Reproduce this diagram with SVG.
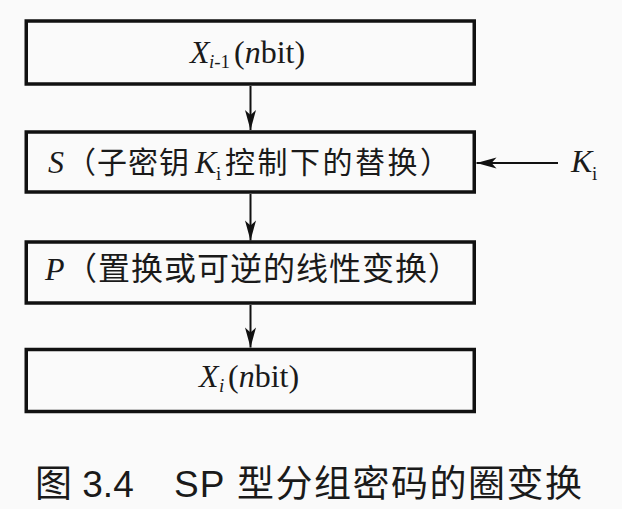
<svg xmlns="http://www.w3.org/2000/svg" width="622" height="509" viewBox="0 0 622 509">
<defs>
<style>
.box{fill:none;stroke:#111;stroke-width:3.5}
.ln{stroke:#111;stroke-width:2;fill:none}
.lat{font-family:"Liberation Serif","Times New Roman",serif;font-size:32px;fill:#1a1a1a}
.it{font-style:italic}
.sub{font-size:19px}
.cjk{font-family:"Noto Sans CJK SC","Noto Sans CJK JP",sans-serif;fill:#1a1a1a}
.cap{font-family:"Liberation Sans","Noto Sans CJK SC",sans-serif;font-size:37px;fill:#1a1a1a}
</style>
<marker id="ah" markerUnits="userSpaceOnUse" markerWidth="24" markerHeight="14" viewBox="-21 -7 22 14" refX="0" refY="0" orient="auto">
<path d="M0,0 L-20,-5.5 L-15,0 L-20,5.5 Z" fill="#111"/>
</marker>
</defs>
<rect width="622" height="509" fill="#fafafa"/>
<g id="connectors">
<line class="ln" x1="250.5" y1="86" x2="250.5" y2="130" marker-end="url(#ah)"/>
<line class="ln" x1="250.5" y1="194" x2="250.5" y2="240.5" marker-end="url(#ah)"/>
<line class="ln" x1="250.5" y1="305" x2="250.5" y2="347.5" marker-end="url(#ah)"/>
<line class="ln" x1="558" y1="163" x2="476.5" y2="163" marker-end="url(#ah)"/>
</g>
<g id="node-xin">
<rect class="box" x="26.25" y="21" width="448" height="63"/>
<text class="lat it" x="190" y="63">X</text>
<text class="lat sub" x="209" y="68"><tspan class="it">i</tspan>-1</text>
<text class="lat" x="234" y="63">(<tspan class="it">n</tspan>bit)</text>
</g>
<g id="node-s">
<rect class="box" x="26.25" y="132" width="448" height="60"/>
<text class="lat it" x="48" y="173">S</text>
<text class="cjk" x="66" y="173" font-size="30" letter-spacing="1">（子密钥</text>
<text class="lat it" x="195" y="173">K</text>
<text class="lat sub" x="216" y="180">i</text>
<text class="cjk" x="225" y="173" font-size="30" letter-spacing="2.5">控制下的替换）</text>
</g>
<g id="node-ki">
<text class="lat it" x="571" y="172">K</text>
<text class="lat sub" x="592" y="180">i</text>
</g>
<g id="node-p">
<rect class="box" x="26.25" y="242" width="448" height="61"/>
<text class="lat it" x="45" y="280">P</text>
<text class="cjk" x="65" y="280" font-size="32" letter-spacing="1">（置换或可逆的线性变换）</text>
</g>
<g id="node-xout">
<rect class="box" x="26.25" y="349.5" width="448" height="62"/>
<text class="lat it" x="199" y="387">X</text>
<text class="lat sub it" x="219" y="392">i</text>
<text class="lat" x="228" y="387">(<tspan class="it">n</tspan>bit)</text>
</g>
<g id="caption">
<text class="cap" x="35" y="497">图 3.4</text>
<text class="cap" x="174" y="497" letter-spacing="1">SP</text>
<text class="cap" x="237" y="497" letter-spacing="1.5">型分组密码的圈变换</text>
</g>
</svg>
